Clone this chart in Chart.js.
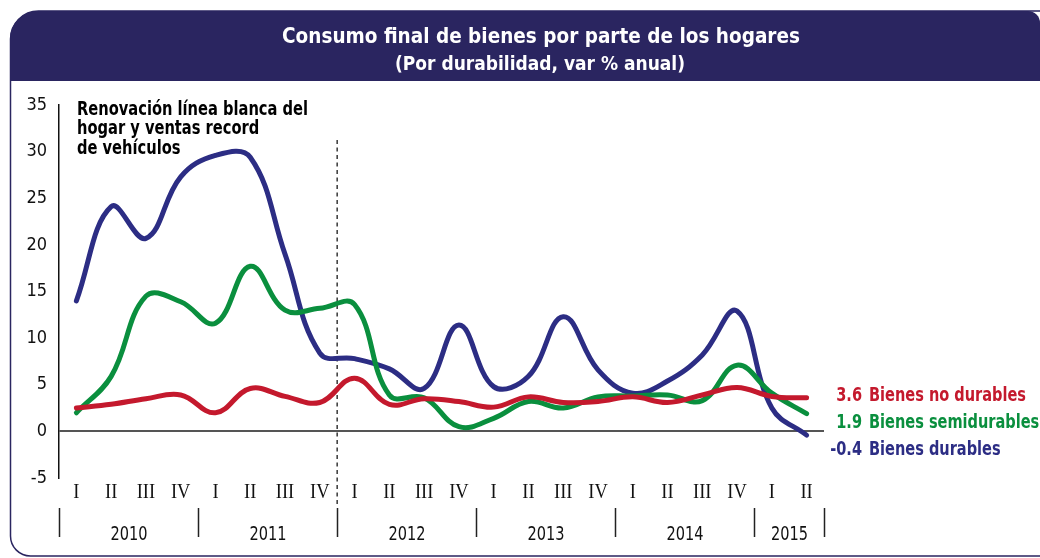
<!DOCTYPE html>
<html>
<head>
<meta charset="utf-8">
<script src="https://cdn.jsdelivr.net/npm/chart.js@4.4.0/dist/chart.umd.min.js"></script>
<style>
  html, body { margin: 0; padding: 0; background: #fff; }
  #wrap { width: 1040px; height: 558px; position: relative; }
</style>
</head>
<body>
<div id="wrap"><canvas id="c" width="1040" height="558"></canvas></div>
<script>
// ── Data ──
var quarters = ['I','II','III','IV','I','II','III','IV','I','II','III','IV',
                'I','II','III','IV','I','II','III','IV','I','II'];
var years     = ['2010','2011','2012','2013','2014','2015'];
var yearSpan  = [4, 4, 4, 4, 4, 2];
var yTicks    = [-5, 0, 5, 10, 15, 20, 25, 30, 35];

var noDurables   = [2.5, 2.9, 3.5, 3.9, 2.0, 4.6, 3.75, 3.1, 5.7, 2.9, 3.5, 3.2,
                    2.6, 3.7, 3.1, 3.2, 3.7, 3.1, 3.9, 4.7, 3.75, 3.6];
var semiDurables = [2.0, 5.9, 14.5, 13.9, 11.6, 17.7, 13.0, 13.2, 13.6, 3.9, 3.6, 0.5,
                    1.4, 3.2, 2.5, 3.7, 3.8, 3.9, 3.3, 7.1, 4.1, 1.9];
var durables     = [14.0, 24.1, 20.7, 27.3, 29.6, 29.4, 19.0, 8.4, 7.8, 6.7, 4.6, 11.4,
                    4.8, 5.9, 12.3, 6.6, 4.1, 5.4, 8.2, 12.9, 2.5, -0.4];

var seriesNames  = ['Bienes no durables', 'Bienes semidurables', 'Bienes durables'];
var titleText    = 'Consumo final de bienes por parte de los hogares';
var subtitleText = '(Por durabilidad, var % anual)';
var noteLines    = ['Renovación línea blanca del', 'hogar y ventas record', 'de vehículos'];

var NAVY  = '#2a2560';
var RED   = '#c4192d';
var GREEN = '#0a8f3e';
var BLUE  = '#2c2d84';
var SANS  = "'DejaVu Sans Condensed', 'DejaVu Sans', sans-serif";
var SERIF = "'Liberation Serif', 'DejaVu Serif', serif";

// the source font is narrower than anything installed: squeeze horizontally
function squeezeText(ctx, text, x, y, sx, align) {
  ctx.save();
  ctx.translate(x, y);
  ctx.scale(sx, 1);
  ctx.textAlign = align || 'left';
  ctx.fillText(text, 0, 0);
  ctx.restore();
}
function fitFactor(ctx, text, width) {
  return width / ctx.measureText(text).width;
}

// ── Frame, title, annotations ──
var framePlugin = {
  id: 'frame',
  beforeDraw: function(chart) {
    var ctx = chart.ctx;
    ctx.save();
    ctx.fillStyle = '#fff';
    ctx.fillRect(0, 0, chart.width, chart.height);

    ctx.strokeStyle = NAVY;
    ctx.lineWidth = 1.5;
    ctx.beginPath();
    ctx.roundRect(10.5, 11, 1060, 545, [28, 12, 20, 20]);
    ctx.stroke();

    ctx.fillStyle = NAVY;
    ctx.beginPath();
    ctx.roundRect(10, 11, 1030, 70, [28, 12, 0, 0]);
    ctx.fill();

    ctx.fillStyle = '#fff';
    ctx.textBaseline = 'alphabetic';
    ctx.font = 'bold 22px ' + SANS;
    squeezeText(ctx, titleText, 541, 43, fitFactor(ctx, titleText, 518), 'center');
    ctx.font = 'bold 19px ' + SANS;
    squeezeText(ctx, subtitleText, 540, 70, fitFactor(ctx, subtitleText, 290), 'center');
    ctx.restore();
  },
  beforeDatasetsDraw: function(chart) {
    var ctx = chart.ctx, x = chart.scales.x;
    var xd = (x.getPixelForValue(7) + x.getPixelForValue(8)) / 2;
    ctx.save();
    ctx.strokeStyle = '#444';
    ctx.lineWidth = 1.6;
    ctx.setLineDash([4, 3.5]);
    ctx.beginPath();
    ctx.moveTo(xd, 140);
    ctx.lineTo(xd, 505);
    ctx.stroke();
    ctx.restore();
  },
  afterDraw: function(chart) {
    var ctx = chart.ctx, x = chart.scales.x;
    var step = x.getPixelForValue(1) - x.getPixelForValue(0);
    ctx.save();
    ctx.textBaseline = 'alphabetic';

    // note
    ctx.fillStyle = '#000';
    ctx.font = 'bold 19px ' + SANS;
    var sn = fitFactor(ctx, noteLines[0], 231);
    noteLines.forEach(function(t, i) { squeezeText(ctx, t, 77, 115 + i * 19.3, sn, 'left'); });

    // quarter labels
    ctx.fillStyle = '#111';
    ctx.font = '21px ' + SERIF;
    ctx.textBaseline = 'middle';
    quarters.forEach(function(q, i) {
      squeezeText(ctx, q, x.getPixelForValue(i), 492, 0.88, 'center');
    });

    // year separators + labels
    ctx.strokeStyle = '#222';
    ctx.lineWidth = 1.5;
    ctx.font = '20px ' + SANS;
    var sy = fitFactor(ctx, years[0], 37);
    var edge = function(i) { return Math.round(x.getPixelForValue(i) - step / 2) + 0.5; };
    var idx = 0;
    ctx.beginPath();
    ctx.moveTo(edge(0), 508); ctx.lineTo(edge(0), 537);
    years.forEach(function(y, k) {
      var a = edge(idx), b = edge(idx + yearSpan[k]);
      ctx.moveTo(b, 508); ctx.lineTo(b, 537);
      squeezeText(ctx, y, (a + b) / 2, 535, sy, 'center');
      idx += yearSpan[k];
    });
    ctx.stroke();

    // end labels
    var ends = [
      { v: noDurables[noDurables.length - 1],     name: seriesNames[0], c: RED,   y: 401 },
      { v: semiDurables[semiDurables.length - 1], name: seriesNames[1], c: GREEN, y: 428 },
      { v: durables[durables.length - 1],         name: seriesNames[2], c: BLUE,  y: 455 }
    ];
    ctx.textBaseline = 'alphabetic';
    ctx.font = 'bold 20px ' + SANS;
    var se = fitFactor(ctx, seriesNames[0], 157);
    ends.forEach(function(e) {
      ctx.fillStyle = e.c;
      squeezeText(ctx, e.v.toFixed(1), 862, e.y, se, 'right');
      squeezeText(ctx, e.name, 869, e.y, se, 'left');
    });
    ctx.restore();
  }
};

function line(label, data, color) {
  return {
    label: label, data: data,
    borderColor: color, backgroundColor: color,
    borderWidth: 5, tension: 0.4,
    pointRadius: 0, fill: false,
    borderCapStyle: 'round', borderJoinStyle: 'round'
  };
}

new Chart(document.getElementById('c'), {
  type: 'line',
  data: {
    labels: quarters,
    datasets: [
      line(seriesNames[0], noDurables, RED),
      line(seriesNames[1], semiDurables, GREEN),
      line(seriesNames[2], durables, BLUE)
    ]
  },
  options: {
    responsive: false,
    animation: false,
    devicePixelRatio: 1,
    layout: { padding: { left: 10, right: 216, top: 105, bottom: 0 } },
    plugins: { legend: { display: false }, tooltip: { enabled: false } },
    scales: {
      x: {
        offset: true,
        grid: { display: false },
        border: { display: false },
        ticks: { display: false },
        afterFit: function(s) { s.height = 80; }
      },
      y: {
        min: yTicks[0], max: yTicks[yTicks.length - 1],
        afterBuildTicks: function(s) { s.ticks = yTicks.map(function(v) { return { value: v }; }); },
        ticks: { color: '#111', font: { family: SANS, size: 18 }, padding: 12 },
        grid: {
          drawTicks: false, lineWidth: 2,
          color: function(c) { return c.tick && c.tick.value === 0 ? '#555' : 'rgba(0,0,0,0)'; }
        },
        border: { display: true, color: '#111', width: 1.5 },
        afterFit: function(s) { s.width = 49; }
      }
    }
  },
  plugins: [framePlugin]
});
</script>
</body>
</html>
